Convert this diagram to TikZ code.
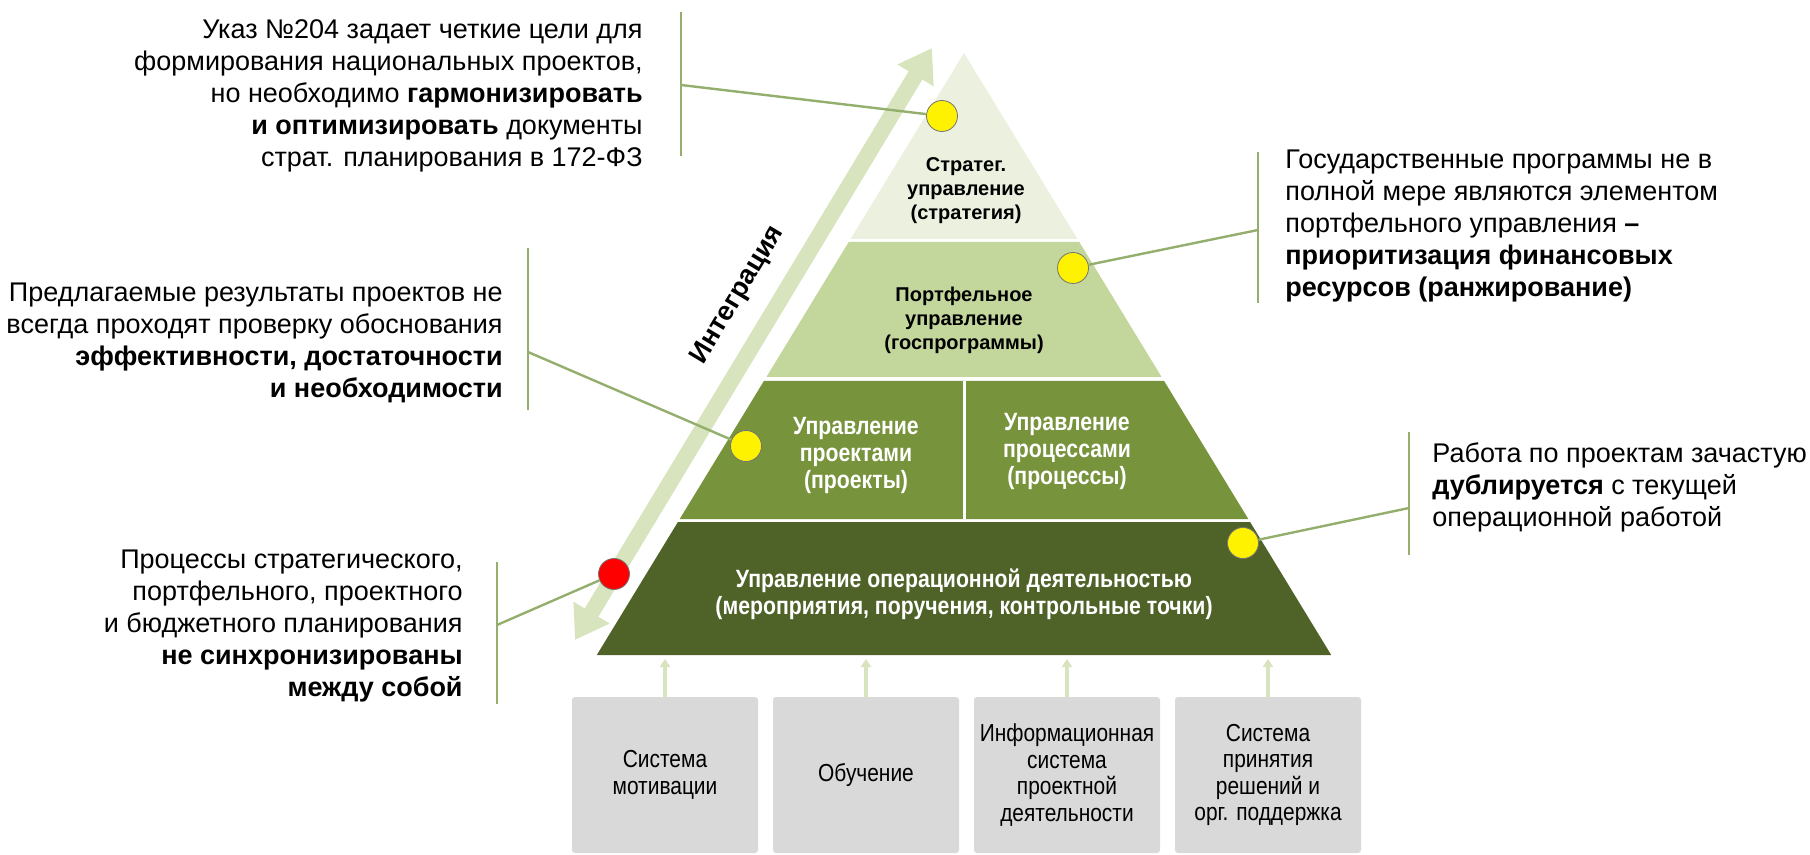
\documentclass[tikz,border=0pt]{standalone}
\usepackage{fontspec}
\setmainfont{Liberation Sans}
\newfontfamily\narrowsans[FakeStretch=0.85]{Liberation Sans}
\usetikzlibrary{arrows.meta}

\definecolor{bandA}{HTML}{EBF1DE}
\definecolor{bandB}{HTML}{C3D69B}
\definecolor{bandC}{HTML}{77933C}
\definecolor{bandD}{HTML}{4F6228}
\definecolor{paleolive}{HTML}{D7E4BD}
\definecolor{boxgray}{HTML}{D9D9D9}
\definecolor{linkgreen}{HTML}{94AE6E}

\tikzset{
  note/.style={font=\fontsize{13.5}{16}\selectfont, inner sep=0pt},
  lvl/.style={font=\fontsize{10}{12}\selectfont\bfseries, align=center, inner sep=0pt},
  lvldark/.style={font=\narrowsans\fontsize{12.5}{13.5}\selectfont\bfseries, align=center, inner sep=0pt, text=white},
  sbox/.style={fill=boxgray, rounded corners=1.5pt, minimum width=93pt, minimum height=78pt,
    align=center, font=\narrowsans\fontsize{12.3}{13.3}\selectfont, inner sep=0pt},
  marker/.style={circle, draw=black!55, line width=0.4pt, minimum size=15.5pt, inner sep=0pt},
  link/.style={draw=linkgreen, line width=1.2pt},
  feed/.style={draw=paleolive, line width=2pt, -{Triangle[width=5pt,length=4pt]}}
}

\begin{document}
\begin{tikzpicture}[x=0.5pt, y=-0.5pt]
  \useasboundingbox (0,0) rectangle (1810,855);

  % integration arrow
  \coordinate (intlow) at (575,640);
  \coordinate (inthigh) at (932,48);
  \draw[paleolive, line width=8pt, {Triangle[width=20pt,length=16pt]}-{Triangle[width=20pt,length=16pt]}] (intlow) -- (inthigh);
  \node[font=\fontsize{13.5}{16}\selectfont\bfseries, rotate=59] (integ) at (738,295) {Интеграция};

  % pyramid
  \fill[bandA] (964,53) -- (1077.5,239) -- (850.5,239) -- cycle;
  \fill[bandB] (848.7,242) -- (1079.3,242) -- (1161.6,377) -- (766.4,377) -- cycle;
  \fill[bandC] (763.9,381) -- (1164.1,381) -- (1248.3,519) -- (679.7,519) -- cycle;
  \fill[bandD] (677.9,522) -- (1250.1,522) -- (1331.2,655) -- (596.8,655) -- cycle;
  \draw[white, line width=1.5pt] (964,381) -- (964,519);

  \node[lvl] (strat) at (966,191) {Стратег.\\управление\\(стратегия)};
  \node[lvl] (portf) at (964,320) {Портфельное\\управление\\(госпрограммы)};
  \node[lvldark] (proj) at (856,455) {Управление\\проектами\\(проекты)};
  \node[lvldark] (proc) at (1067,451) {Управление\\процессами\\(процессы)};
  \node[lvldark] (oper) at (964,594) {Управление операционной деятельностью\\(мероприятия, поручения, контрольные точки)};

  % brackets and links
  \coordinate (bar1t) at (681,12);   \coordinate (bar1b) at (681,156);  \coordinate (bar1m) at (681,85);
  \coordinate (bar2t) at (528,248);  \coordinate (bar2b) at (528,410);  \coordinate (bar2m) at (528,352);
  \coordinate (bar3t) at (497,562);  \coordinate (bar3b) at (497,704);  \coordinate (bar3m) at (497,625);
  \coordinate (bar4t) at (1258,152); \coordinate (bar4b) at (1258,303); \coordinate (bar4m) at (1258,230);
  \coordinate (bar5t) at (1409,432); \coordinate (bar5b) at (1409,555); \coordinate (bar5m) at (1409,508);
  \draw[link] (bar1t) -- (bar1b);
  \draw[link] (bar2t) -- (bar2b);
  \draw[link] (bar3t) -- (bar3b);
  \draw[link] (bar4t) -- (bar4b);
  \draw[link] (bar5t) -- (bar5b);

  \node[marker, fill=yellow] (dot1) at (942,116) {};
  \node[marker, fill=yellow] (dot2) at (1073,268) {};
  \node[marker, fill=yellow] (dot3) at (746,446) {};
  \node[marker, fill=yellow] (dot4) at (1243,543) {};
  \node[marker, fill=red] (dot5) at (614,574) {};
  \draw[link] (bar1m) -- (dot1);
  \draw[link] (bar4m) -- (dot2);
  \draw[link] (bar2m) -- (dot3);
  \draw[link] (bar5m) -- (dot4);
  \draw[link] (bar3m) -- (dot5);

  % notes
  \node[note, anchor=east, align=right] (note1) at (643,96)
    {Указ №204 задает четкие цели для\\формирования национальных проектов,\\но необходимо \textbf{гармонизировать}\\\textbf{и оптимизировать} документы\\страт. планирования в 172-ФЗ};
  \node[note, anchor=east, align=right] (note2) at (503,343)
    {Предлагаемые результаты проектов не\\всегда проходят проверку обоснования\\\textbf{эффективности, достаточности}\\\textbf{и необходимости}};
  \node[note, anchor=east, align=right] (note3) at (463,626)
    {Процессы стратегического,\\портфельного, проектного\\и бюджетного планирования\\\textbf{не синхронизированы}\\\textbf{между собой}};
  \node[note, anchor=west, align=left] (note4) at (1285,226)
    {Государственные программы не в\\полной мере являются элементом\\портфельного управления \textbf{–}\\\textbf{приоритизация финансовых}\\\textbf{ресурсов (ранжирование)}};
  \node[note, anchor=west, align=left] (note5) at (1432,487)
    {Работа по проектам зачастую\\\textbf{дублируется} с текущей\\операционной работой};

  % supporting boxes
  \coordinate (base) at (964,659);
  \node[sbox] (box1) at (665,775) {Система\\мотивации};
  \node[sbox] (box2) at (866,775) {Обучение};
  \node[sbox] (box3) at (1067,775) {Информационная\\система\\проектной\\деятельности};
  \node[sbox] (box4) at (1268,775) {Система\\принятия\\решений и\\орг. поддержка};
  \foreach \b in {box1,box2,box3,box4}
    \draw[feed] (\b.north) -- (\b.north |- base);
\end{tikzpicture}
\end{document}
